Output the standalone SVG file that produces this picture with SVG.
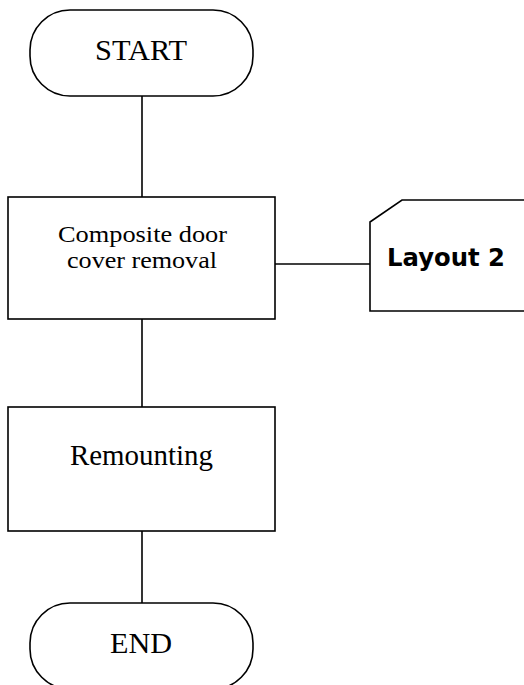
<svg xmlns="http://www.w3.org/2000/svg" width="524" height="685" viewBox="0 0 524 685">
<style>
.s{fill:#fff;stroke:#000;stroke-width:1.6}
.c{stroke:#000;stroke-width:1.6;fill:none}
.t{font-family:"Liberation Serif","Times New Roman",serif;fill:#000;text-anchor:middle}
.b{font-family:"DejaVu Sans",Verdana,sans-serif;font-weight:bold;fill:#000;text-anchor:middle}
</style>
<rect width="524" height="685" fill="#fff"/>
<g id="connectors">
<line class="c" x1="142" y1="96" x2="142" y2="197"/>
<line class="c" x1="275" y1="264" x2="370" y2="264"/>
<line class="c" x1="142" y1="319" x2="142" y2="407"/>
<line class="c" x1="142" y1="531" x2="142" y2="603"/>
</g>
<g id="start">
<rect class="s" x="30" y="10" width="223" height="86" rx="40"/>
<text class="t" x="141" y="60" font-size="30" textLength="92" lengthAdjust="spacingAndGlyphs">START</text>
</g>
<g id="removal">
<rect class="s" x="8" y="197" width="267" height="122"/>
<text class="t" x="142.5" y="242" font-size="24" textLength="169" lengthAdjust="spacingAndGlyphs">Composite door</text>
<text class="t" x="142" y="268" font-size="24" textLength="150" lengthAdjust="spacingAndGlyphs">cover removal</text>
</g>
<g id="layout2">
<polygon class="s" points="370,222 402,200 530,200 530,311 370,311"/>
<text class="b" x="446" y="266" font-size="24" textLength="118" lengthAdjust="spacingAndGlyphs">Layout 2</text>
</g>
<g id="remounting">
<rect class="s" x="8" y="407" width="267" height="124"/>
<text class="t" x="141.5" y="465" font-size="30" textLength="143" lengthAdjust="spacingAndGlyphs">Remounting</text>
</g>
<g id="end">
<rect class="s" x="30" y="603" width="223" height="86" rx="40"/>
<text class="t" x="141" y="653" font-size="30" textLength="62" lengthAdjust="spacingAndGlyphs">END</text>
</g>
</svg>
